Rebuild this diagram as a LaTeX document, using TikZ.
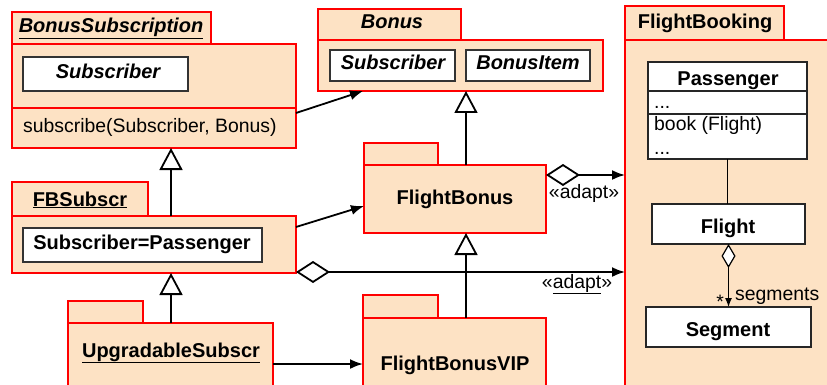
\documentclass[tikz,border=0pt]{standalone}
\usepackage{fontspec}
\setmainfont{Liberation Sans}
\usetikzlibrary{arrows.meta,calc}
\definecolor{peach}{HTML}{FDE2C4}
\definecolor{pred}{HTML}{FF0000}
\definecolor{dgray}{HTML}{333333}
\begin{document}
\begin{tikzpicture}[x=1pt,y=-1pt,
  pkg/.style={draw=pred, fill=peach, line width=2pt, anchor=north west, inner sep=0pt, outer sep=0pt},
  inbox/.style={draw=dgray, fill=white, line width=1.2pt, anchor=north west, inner sep=0pt, outer sep=0pt},
  cls/.style={draw=black!85, fill=white, line width=1.2pt, anchor=north west, inner sep=0pt, outer sep=0pt},
  txt/.style={font=\fontsize{19.4}{22}\selectfont, inner sep=0pt, anchor=base},
  btxt/.style={txt, font=\fontsize{20}{22}\selectfont\bfseries},
  bitxt/.style={txt, font=\fontsize{20}{22}\selectfont\bfseries\itshape},
  conn/.style={line width=1.8pt},
  assoc/.style={conn, -{Latex[length=13pt,width=10pt]}},
  gen/.style={conn, -{Triangle[open,length=22pt,width=23pt,fill=white]}},
  adapt/.style={conn, {Diamond[open,length=34pt,width=22pt,fill=white]}-{Latex[length=13pt,width=10pt]}},
  lbl/.style={font=\fontsize{19.4}{22}\selectfont, inner sep=0pt}
]
\useasboundingbox (0,0) rectangle (827,385);
\clip (0,0) rectangle (827,385);

% ---- BonusSubscription
\node[pkg, minimum width=199pt, minimum height=32pt] (bst) at (12,12) {};
\node[pkg, minimum width=284pt, minimum height=104pt] (bs) at (12,44) {};
\draw[draw=pred, line width=2pt] ($(bs.north west)+(0,64)$) -- ($(bs.north east)+(0,64)$);
\node[bitxt] (bstl) at (111,33) {\underline{BonusSubscription}};
\node[inbox, minimum width=165pt, minimum height=34pt] (bssub) at (23,57) {};
\node[bitxt] at (108,79) {Subscriber};
\node[txt, anchor=base west] (bsop) at (23,132) {subscribe(Subscriber, Bonus)};

% ---- Bonus
\node[pkg, minimum width=143pt, minimum height=31pt] (bot) at (318,9) {};
\node[pkg, minimum width=285pt, minimum height=51pt] (bo) at (318,40) {};
\node[bitxt] at (392,29) {Bonus};
\node[inbox, minimum width=125pt, minimum height=31pt] (bosub) at (330,50) {};
\node[bitxt] at (393,70) {Subscriber};
\node[inbox, minimum width=124pt, minimum height=31pt] (boitem) at (466,50) {};
\node[bitxt] at (528,70) {BonusItem};

% ---- FBSubscr
\node[pkg, minimum width=136pt, minimum height=34pt] (fbt) at (12,182) {};
\node[pkg, minimum width=284pt, minimum height=57pt] (fbs) at (12,216) {};
\node[btxt] at (80,206) {\underline{FBSubscr}};
\node[inbox, minimum width=239pt, minimum height=34pt] (fbsin) at (23,228) {};
\node[btxt] at (142,249) {Subscriber=Passenger};

% ---- UpgradableSubscr
\node[pkg, minimum width=75pt, minimum height=22pt] (ust) at (68,301) {};
\node[pkg, minimum width=205pt, minimum height=80pt] (us) at (68,323) {};
\node[btxt] at (171,357) {\underline{UpgradableSubscr}};

% ---- FlightBonus
\node[pkg, minimum width=74pt, minimum height=22pt] (fbnt) at (364,143) {};
\node[pkg, minimum width=182pt, minimum height=68pt] (fbn) at (364,165) {};
\node[btxt] at (455,204) {FlightBonus};

% ---- FlightBonusVIP
\node[pkg, minimum width=75pt, minimum height=23pt] (fvt) at (363,295) {};
\node[pkg, minimum width=183pt, minimum height=80pt] (fv) at (363,318) {};
\node[btxt] at (455,370) {FlightBonusVIP};

% ---- FlightBooking
\node[pkg, minimum width=159pt, minimum height=34pt] (fbkt) at (625,6) {};
\node[pkg, minimum width=220pt, minimum height=360pt] (fbk) at (625,40) {};
\node[btxt] at (705,29) {FlightBooking};

\node[cls, minimum width=159pt, minimum height=97pt] (pass) at (648,62) {};
\draw[black!85, line width=1.2pt] ($(pass.north west)+(0,29)$) -- ($(pass.north east)+(0,29)$);
\draw[black!85, line width=1.6pt] ($(pass.north west)+(0,52)$) -- ($(pass.north east)+(0,52)$);
\node[btxt] at (728,86) {Passenger};
\node[txt, anchor=base west] at (654,109) {...};
\node[txt, anchor=base west] at (654,131) {book (Flight)};
\node[txt, anchor=base west] at (654,154) {...};

\node[cls, minimum width=153pt, minimum height=40pt] (flight) at (652,204) {};
\node[btxt] at (728,233) {Flight};
\node[cls, minimum width=165pt, minimum height=40pt] (seg) at (646,307) {};
\node[btxt] at (728,336) {Segment};

% ---- connectors
\draw[assoc] ($(bs.south east)+(0,-35)$) -- ($(bo.south west)+(45,0)$);
\draw[gen] ($(fbn.north west)+(102,0)$) -- ($(bo.south west)+(148,0)$);
\draw[gen] ($(fbs.north west)+(159,0)$) -- ($(bs.south west)+(159,0)$);
\draw[gen] ($(us.north west)+(103,0)$) -- ($(fbs.south west)+(159,0)$);
\draw[assoc] ($(fbs.north east)+(0,11)$) -- ($(fbn.north west)+(0,41)$);
\draw[gen] ($(fv.north west)+(103,0)$) -- ($(fbn.south west)+(102,0)$);
\draw[assoc] ($(us.north east)+(0,41)$) -- ($(fv.north west)+(0,46)$);
\draw[adapt] ($(fbn.north east)+(0,10)$) -- ($(fbk.north west)+(0,135)$)
  node[lbl, at end, anchor=base east, xshift=-5pt, yshift=-23pt] {«adapt»};
\draw[adapt] ($(fbs.south east)+(0,-1)$) -- ($(fbk.north west)+(0,232)$)
  node[lbl, at end, anchor=base east, xshift=-12pt, yshift=-16pt] {«\underline{adapt}»};
\draw[black, line width=1.2pt] (pass.south) -- (pass.south |- flight.north);
\draw[black, line width=1.2pt, {Diamond[open,length=24pt,width=14pt,fill=white]}-{Latex[length=9pt,width=7pt]}] (flight.south) -- (flight.south |- seg.north)
  node[lbl, at end, anchor=base west, xshift=6pt, yshift=7pt] {segments}
  node[lbl, at end, anchor=base east, xshift=-4pt, yshift=-1pt] {*};
\end{tikzpicture}
\end{document}
